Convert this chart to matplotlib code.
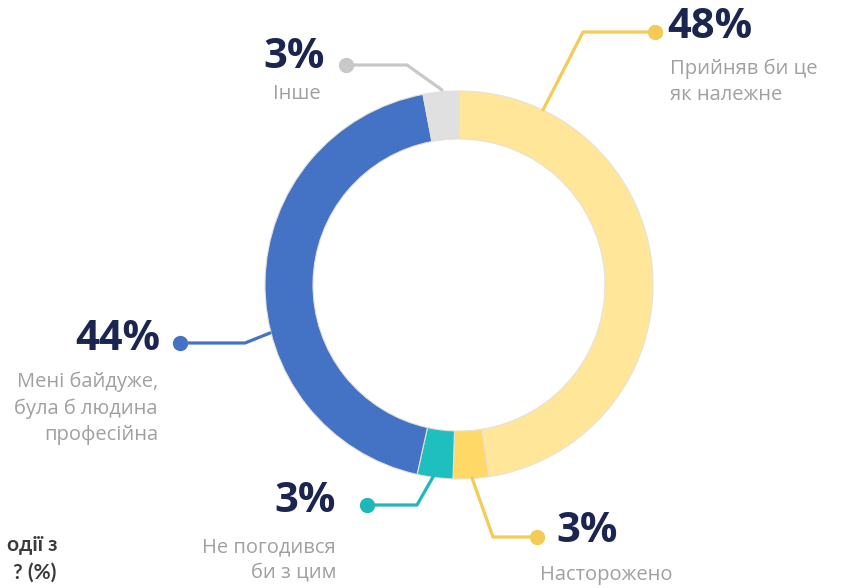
import matplotlib.pyplot as plt

# дані
labels = ["Прийняв би це\nяк належне", "Насторожено", "Не погодився\nби з цим",
          "Мені байдуже,\nбула б людина\nпрофесійна", "Інше"]
values = [48, 3, 3, 44, 3]
pct_text = ["48%", "3%", "3%", "44%", "3%"]
colors = ["#FFE699", "#FFD966", "#1FBFBF", "#4472C4", "#E0E0E0"]
line_colors = ["#F3CB55", "#F3CB55", "#1FB8B8", "#4472C4", "#C8C8C8"]

W, H = 856, 588
fig = plt.figure(figsize=(W / 100, H / 100), dpi=100)
ax = fig.add_axes([0, 0, 1, 1])

cx, cy = 459, H - 285
ax.pie(values, colors=colors, startangle=90, counterclock=False,
       radius=194, center=(cx, cy), frame=True,
       wedgeprops=dict(width=48, edgecolor="#E6E1D6", linewidth=0.8))
ax.set_xlim(0, W)
ax.set_ylim(0, H)
ax.set_aspect("equal")
ax.axis("off")

# лінії-виноски (в координатах зображення)
leaders = [
    [(543, 110), (583, 32), (655, 32)],
    [(472, 478), (493, 537), (537, 537)],
    [(433, 477), (417, 505), (367, 505)],
    [(270, 333), (245, 343), (180, 343)],
    [(442, 90), (407, 65), (346, 65)],
]
# підписи: позиція відсотка, позиція тексту, вирівнювання
pct_pos = [(667, 28, "left"), (556, 531, "left"), (336, 502, "right"),
           (160, 340, "right"), (325, 58, "right")]
lab_pos = [(670, 59, "left"), (540, 565, "left"), (336, 537, "right"),
           (158, 372, "right"), (321, 84, "right")]

for i in range(len(values)):
    xs = [p[0] for p in leaders[i]]
    ys = [H - p[1] for p in leaders[i]]
    ax.plot(xs, ys, color=line_colors[i], lw=2.3, solid_capstyle="round",
            solid_joinstyle="round", zorder=3)
    ax.plot(xs[-1], ys[-1], "o", color=line_colors[i], ms=10, zorder=4)
    px, py, ha = pct_pos[i]
    ax.text(px, H - py, pct_text[i], ha=ha, va="center", fontsize=30,
            fontweight="bold", color="#1B2550", family="Open Sans")
    lx, ly, lha = lab_pos[i]
    ax.text(lx, H - ly, labels[i], ha=lha, va="top", fontsize=14.5,
            color="#A0A0A0", family="Open Sans", linespacing=1.4, ma=lha)

# обрізаний заголовок зліва внизу
ax.text(58, H - 545, "одії з", ha="right", va="center",
        fontsize=15, fontweight="bold", color="#3A3A3A", family="Lato")
ax.text(56, H - 573, "? (%)", ha="right", va="center",
        fontsize=15, fontweight="bold", color="#3A3A3A", family="Lato")

fig.savefig("out.png", dpi=100)
